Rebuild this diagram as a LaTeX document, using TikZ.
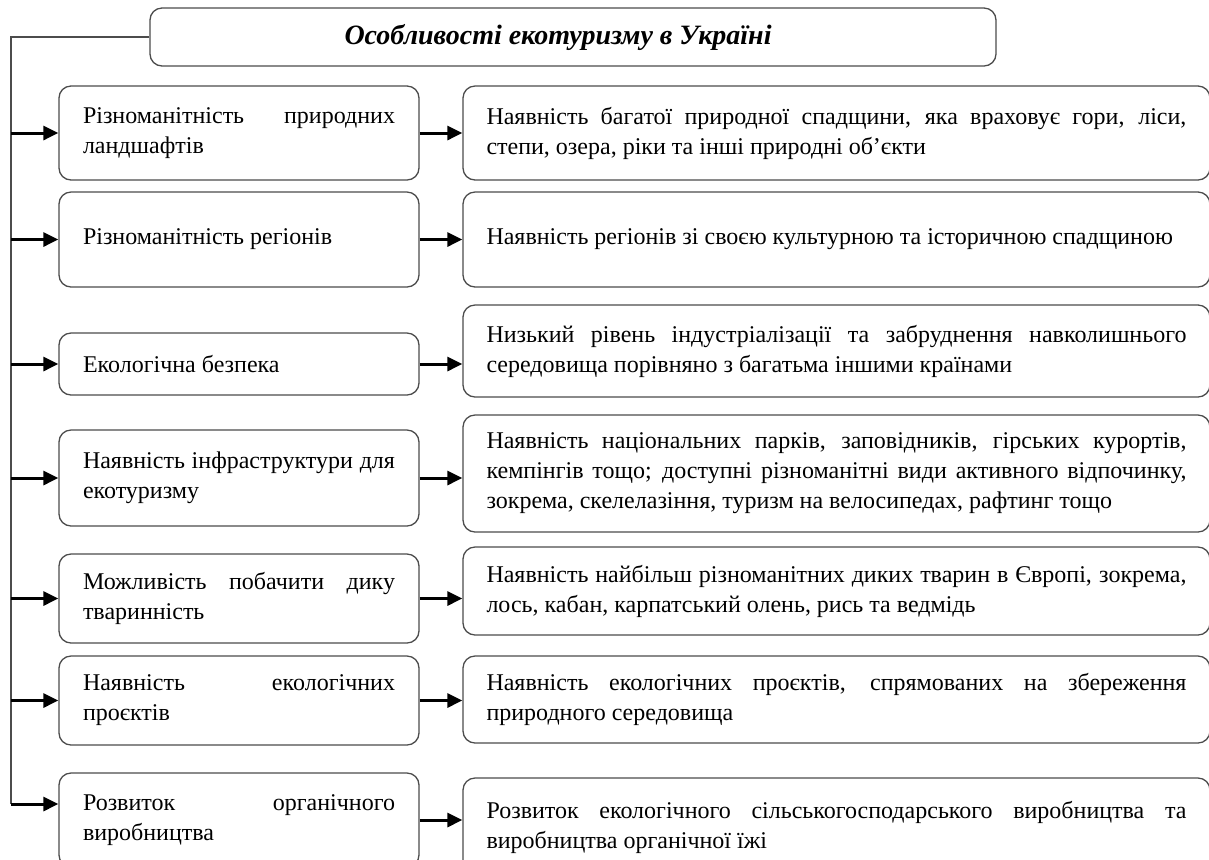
\documentclass[tikz,border=0pt]{standalone}
\usepackage{fontspec}
\setmainfont{Liberation Serif}
\usetikzlibrary{arrows.meta}
\definecolor{boxline}{gray}{0.3}
\begin{document}
\begin{tikzpicture}[x=0.5pt,y=-0.5pt,
	box/.style={draw=boxline, line width=0.65pt, rounded corners=6pt, align=justify,
		font=\fontsize{12pt}{15pt}\selectfont},
	leftbox/.style={box, text width=156pt, minimum width=180pt, inner xsep=12pt},
	rightbox/.style={box, text width=350pt, minimum width=373.5pt, inner xsep=11.75pt},
	arr/.style={line width=1.5pt, -{Triangle[length=7.5pt,width=7pt]}}]

	\clip (0,0) rectangle (1209,859);

	\node[draw=boxline, line width=0.65pt, rounded corners=6pt, minimum width=423pt, minimum height=29pt,
		font=\fontsize{14pt}{16pt}\selectfont\bfseries\itshape] (title) at (573,37) {Особливості екотуризму в Україні\hspace*{15pt}};

	% left column
	\node[leftbox, minimum height=47pt] (l1) at (239,133) {Різноманітність природних\linebreak ландшафтів};
	\node[leftbox, minimum height=47.5pt] (l2) at (239,239.5) {Різноманітність регіонів};
	\node[leftbox, minimum height=31pt] (l3) at (239,364) {Екологічна безпека};
	\node[leftbox, minimum height=48pt] (l4) at (239,478) {Наявність інфраструктури для\linebreak екотуризму};
	\node[leftbox, minimum height=44.5pt] (l5) at (239,598.5) {Можливість побачити дику\linebreak тваринність};
	\node[leftbox, minimum height=44.5pt] (l6) at (239,700.5) {Наявність екологічних\linebreak проєктів};
	\node[leftbox, minimum height=47pt] (l7) at (239,820) {Розвиток органічного\linebreak виробництва};

	% right column
	\node[rightbox, minimum height=47pt] (r1) at (836.5,133) {Наявність багатої природної спадщини, яка враховує гори, ліси, степи, озера, ріки та інші природні об’єкти};
	\node[rightbox, minimum height=47.5pt] (r2) at (836.5,239.5) {Наявність регіонів зі своєю культурною та історичною спадщиною};
	\node[rightbox, minimum height=46pt] (r3) at (836.5,351) {Низький рівень індустріалізації та забруднення навколишнього середовища порівняно з багатьма іншими країнами};
	\node[rightbox, minimum height=58.5pt] (r4) at (836.5,473.5) {Наявність національних парків, заповідників, гірських курортів, кемпінгів тощо; доступні різноманітні види активного відпочинку, зокрема, скелелазіння, туризм на велосипедах, рафтинг тощо};
	\node[rightbox, minimum height=44pt] (r5) at (836.5,591) {Наявність найбільш різноманітних диких тварин в Європі, зокрема, лось, кабан, карпатський олень, рись та ведмідь};
	\node[rightbox, minimum height=43.5pt] (r6) at (836.5,699.5) {Наявність екологічних проєктів, спрямованих на збереження природного середовища};
	\node[rightbox, minimum height=49pt] (r7) at (836.5,827) {Розвиток екологічного сільськогосподарського виробництва та виробництва органічної їжі};

	\coordinate (bot) at (11,804);
	\draw[boxline, line width=0.65pt] (title.west) -| (bot);

	\foreach \i in {1,...,6}
		\draw[arr] (bot |- l\i.west) -- (l\i.west);
	\draw[arr] (bot) -- (bot -| l7.west);

	\foreach \i in {1,...,7}
		\draw[arr] (l\i.east) -- (l\i.east -| r\i.west);

\end{tikzpicture}
\end{document}
